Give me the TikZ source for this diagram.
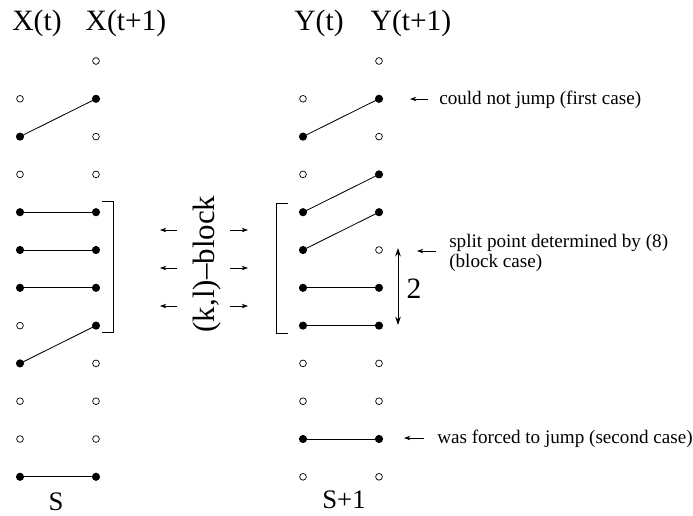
\documentclass[tikz,border=0pt]{standalone}
\usepackage{fontspec}
\setmainfont{Liberation Serif}
\usetikzlibrary{arrows.meta}

\tikzset{
  fulldot/.style={circle,fill=black,inner sep=0pt,minimum size=5.8pt},
  opendot/.style={circle,draw=black,line width=0.5pt,fill=white,inner sep=0pt,minimum size=4.8pt},
  link/.style={line width=0.6pt},
  bigtext/.style={font=\fontsize{21}{25}\selectfont,inner sep=0pt},
  smalltext/.style={font=\fontsize{13.6}{14.2}\selectfont,inner sep=0pt,anchor=west,align=left},
  pointer/.style={line width=0.6pt,-{Stealth[length=4.5pt,width=3.2pt]}},
}

\begin{document}
\begin{tikzpicture}[x=0.025cm,y=-0.025cm]
\useasboundingbox (0,0) rectangle (693,515);

% column titles
\node[bigtext,anchor=base] (tx) at (37,30) {X(t)};
\node[bigtext,anchor=base] (tx1) at (126,30) {X(t+1)};
\node[bigtext,anchor=base] (ty) at (319,30) {Y(t)};
\node[bigtext,anchor=base] (ty1) at (411,30) {Y(t+1)};

% X(t) and X(t+1)
\foreach \r/\s in {1/opendot,2/fulldot,3/opendot,4/fulldot,5/fulldot,6/fulldot,
                   7/opendot,8/fulldot,9/opendot,10/opendot,11/fulldot}
  \node[\s] (xa\r) at (20,{61+37.8*\r}) {};
\foreach \r/\s in {0/opendot,1/fulldot,2/opendot,3/opendot,4/fulldot,5/fulldot,
                   6/fulldot,7/fulldot,8/opendot,9/opendot,10/opendot,11/fulldot}
  \node[\s] (xb\r) at (96,{61+37.8*\r}) {};

% Y(t) and Y(t+1)
\foreach \r/\s in {1/opendot,2/fulldot,3/opendot,4/fulldot,5/fulldot,6/fulldot,
                   7/fulldot,8/opendot,9/opendot,10/fulldot,11/opendot}
  \node[\s] (ya\r) at (303,{61+37.8*\r}) {};
\foreach \r/\s in {0/opendot,1/fulldot,2/opendot,3/fulldot,4/fulldot,5/opendot,
                   6/fulldot,7/fulldot,8/opendot,9/opendot,10/fulldot,11/opendot}
  \node[\s] (yb\r) at (379,{61+37.8*\r}) {};

% links
\draw[link] (xa2.center) -- (xb1.center);
\draw[link] (xa4.center) -- (xb4.center);
\draw[link] (xa5.center) -- (xb5.center);
\draw[link] (xa6.center) -- (xb6.center);
\draw[link] (xa8.center) -- (xb7.center);
\draw[link] (xa11.center) -- (xb11.center);

\draw[link] (ya2.center) -- (yb1.center);
\draw[link] (ya4.center) -- (yb3.center);
\draw[link] (ya5.center) -- (yb4.center);
\draw[link] (ya6.center) -- (yb6.center);
\draw[link] (ya7.center) -- (yb7.center);
\draw[link] (ya10.center) -- (yb10.center);

% brackets
\draw[link] (102,201) -- (113,201) -- (113,332) -- (102,332);
\draw[link] (288,203) -- (276,203) -- (276,333) -- (288,333);

% the block in between
\node[bigtext,font=\fontsize{22}{26}\selectfont,rotate=90] (blk) at (207,264) {(k,l)--block};
\foreach \y [count=\i] in {230,268,306} {
  \coordinate (la\i) at (177,\y);
  \coordinate (lb\i) at (160,\y);
  \coordinate (ra\i) at (230,\y);
  \coordinate (rb\i) at (248,\y);
  \draw[pointer] (la\i) -- (lb\i);
  \draw[pointer] (ra\i) -- (rb\i);
}

% gap of 2
\coordinate (gtop) at (398,248);
\coordinate (gbot) at (398,325);
\draw[link,{Stealth[length=6pt,width=4pt]}-{Stealth[length=6pt,width=4pt]}] (gtop) -- (gbot);
\node[bigtext] (gap) at (414,289) {2};

% remarks
\node[smalltext] (rem1) at (439,100) {could not jump (first case)};
\coordinate (p1a) at (428,99);
\coordinate (p1b) at (410,99);
\draw[pointer] (p1a) -- (p1b);

\node[smalltext] (rem2) at (449,253) {split point determined by (8)\\(block case)};
\coordinate (p2a) at (436,251);
\coordinate (p2b) at (417,251);
\draw[pointer] (p2a) -- (p2b);

\node[smalltext] (rem3) at (437,439) {was forced to jump (second case)};
\coordinate (p3a) at (424,438);
\coordinate (p3b) at (404,438);
\draw[pointer] (p3a) -- (p3b);

% bottom labels
\node[bigtext,font=\fontsize{19}{22}\selectfont] (sx) at (56,502) {S};
\node[bigtext,font=\fontsize{19}{22}\selectfont] (sy) at (344,500) {S+1};
\end{tikzpicture}
\end{document}
